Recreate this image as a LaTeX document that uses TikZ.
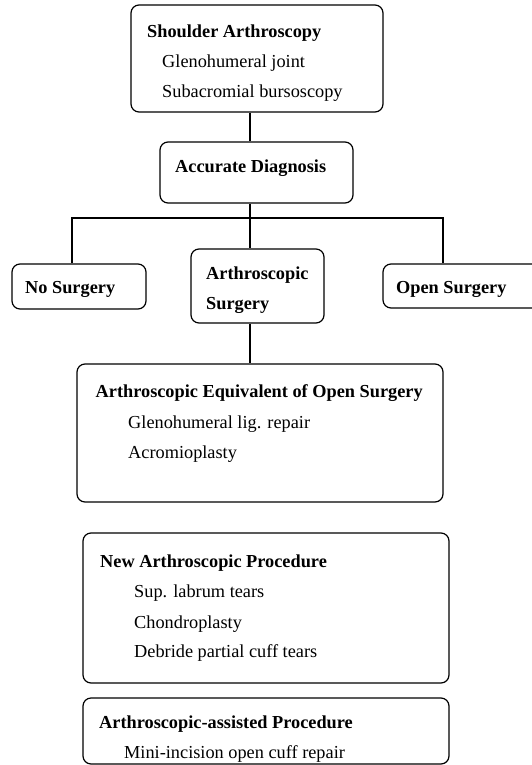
\documentclass[tikz,border=0pt]{standalone}
\usepackage{fontspec}
\setmainfont{Liberation Serif}
\begin{document}
\begin{tikzpicture}[x=1pt,y=-1pt,
  box/.style={draw,line width=1.2pt,rounded corners=8pt,inner sep=0pt},
  link/.style={line width=1.2pt},
  hd/.style={anchor=base west,inner sep=0pt,font=\fontsize{18.3}{22}\selectfont\bfseries},
  it/.style={anchor=base west,inner sep=0pt,font=\fontsize{18.3}{22}\selectfont}]
\useasboundingbox[fill=white] (0,0) rectangle (531,765);
% boxes
\node[box,minimum width=252pt,minimum height=107pt] (sa) at (257,58.5) {};
\node[box,minimum width=193pt,minimum height=61pt] (ad) at (256.5,172.5) {};
\node[box,minimum width=134pt,minimum height=45pt] (ns) at (79,286.5) {};
\node[box,minimum width=133pt,minimum height=74pt] (as) at (257.5,286) {};
\node[box,minimum width=162pt,minimum height=44pt] (os) at (464,286) {};
\node[box,minimum width=366pt,minimum height=138pt] (eq) at (260,433) {};
\node[box,minimum width=366pt,minimum height=150pt] (np) at (266,608) {};
\node[box,minimum width=366pt,minimum height=66pt] (ap) at (266,731) {};
% texts
\node[hd] (t1) at (147,37.3) {Shoulder Arthroscopy};
\node[it] (t2) at (162,67.7) {Glenohumeral joint};
\node[it] (t3) at (162,98) {Subacromial bursoscopy};
\node[hd] (t4) at (175,172) {Accurate Diagnosis};
\node[hd] (t5) at (25,293) {No Surgery};
\node[hd] (t6) at (206,279.5) {Arthroscopic};
\node[hd] (t7) at (206,309) {Surgery};
\node[hd] (t8) at (396,293) {Open Surgery};
\node[hd] (t9) at (95.5,397.8) {Arthroscopic Equivalent of Open Surgery};
\node[it] (t10) at (128,428) {Glenohumeral lig. repair};
\node[it] (t11) at (128,458.8) {Acromioplasty};
\node[hd] (t12) at (100,567) {New Arthroscopic Procedure};
\node[it] (t13) at (134,597.8) {Sup. labrum tears};
\node[it] (t14) at (134,628) {Chondroplasty};
\node[it] (t15) at (134,657) {Debride partial cuff tears};
\node[hd] (t16) at (99,728) {Arthroscopic-assisted Procedure};
\node[it] (t17) at (124,758.6) {Mini-incision open cuff repair};
% connectors
\coordinate (sp) at (250,0);
\coordinate (bus) at (0,218);
\coordinate (xl) at (72,0);
\coordinate (xr) at (443,0);
\draw[link] (sa.south -| sp) -- (ad.north -| sp);
\draw[link] (ad.south -| sp) -- (as.north -| sp);
\draw[link] (ns.north -| xl) -- (bus -| xl) -- (bus -| xr) -- (os.north -| xr);
\draw[link] (as.south -| sp) -- (eq.north -| sp);
\end{tikzpicture}
\end{document}
